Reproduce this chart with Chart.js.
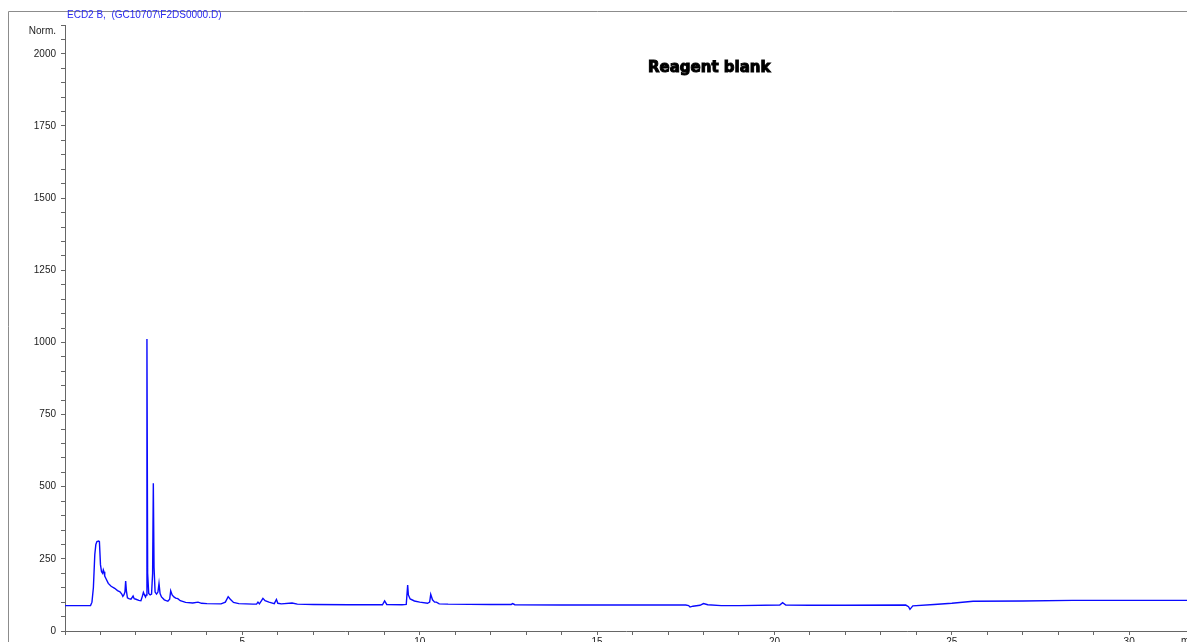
<!DOCTYPE html>
<html>
<head>
<meta charset="utf-8">
<script src="https://cdn.jsdelivr.net/npm/chart.js@4/dist/chart.umd.min.js"></script>
<style>
  html, body { margin: 0; padding: 0; background: #fff; }
  #wrap { width: 1187px; height: 642px; position: relative; }
</style>
</head>
<body>
<div id="wrap"><canvas id="chart1"></canvas></div>
<script>
// retention time (min)
var times = [
    0, 0.72, 0.76, 0.80, 0.84, 0.87, 0.90, 0.95, 0.97, 1.00,
    1.03, 1.06, 1.08, 1.10, 1.12, 1.16, 1.22, 1.30, 1.40, 1.48,
    1.55, 1.60, 1.63, 1.66, 1.69, 1.71, 1.73, 1.76, 1.80, 1.86,
    1.92, 1.95, 2.00, 2.08, 2.14, 2.18, 2.21, 2.24, 2.27, 2.29,
    2.31, 2.33, 2.36, 2.40, 2.44, 2.47, 2.49, 2.51, 2.54, 2.58,
    2.62, 2.65, 2.68, 2.72, 2.80, 2.90, 2.95, 2.98, 3.02, 3.07,
    3.12, 3.18, 3.25, 3.40, 3.60, 3.75, 3.85, 4.00, 4.40, 4.52,
    4.60, 4.66, 4.75, 4.90, 5.30, 5.40, 5.44, 5.48, 5.54, 5.58,
    5.64, 5.75, 5.90, 5.96, 6.00, 6.10, 6.40, 6.55, 7.00, 8.00,
    8.95, 9.01, 9.07, 9.50, 9.62, 9.66, 9.68, 9.73, 9.85, 10.0,
    10.22, 10.28, 10.31, 10.36, 10.42, 10.47, 10.55, 10.8, 12.0, 12.58,
    12.62, 12.68, 14.0, 16.0, 17.50, 17.58, 17.62, 17.70, 17.90, 18.0,
    18.12, 18.5, 19.0, 20.15, 20.23, 20.32, 21.0, 22.0, 23.70, 23.78,
    23.82, 23.90, 24.5, 25.0, 25.6, 27.0, 28.4, 30.0, 31.7
];
// detector signal (Norm.)
var signal = [
    88, 88, 100, 150, 265, 300, 310, 312, 310, 230,
    205, 200, 212, 205, 190, 180, 165, 155, 148, 140,
    136, 128, 120, 125, 135, 173, 140, 115, 112, 110,
    121, 112, 110, 106, 105, 120, 134, 125, 118, 125,
    1012, 200, 130, 125, 128, 200, 512, 220, 135, 128,
    135, 165, 130, 118, 108, 103, 110, 139, 125, 118,
    114, 112, 105, 99, 97, 100, 96, 95, 94, 100,
    119, 110, 99, 95, 93, 93, 100, 94, 105, 113,
    105, 100, 95, 109, 96, 94, 97, 93, 92, 91,
    91, 104, 92, 91, 92, 159, 125, 111, 104, 100,
    96, 100, 127, 108, 100, 100, 94, 93, 92, 92,
    95, 91, 90, 90, 90, 88, 83, 86, 89, 95,
    91, 88, 88, 90, 98, 90, 89, 89, 90, 84,
    75, 87, 92, 96, 103, 104, 106, 106, 106
];
var headerText = 'ECD2 B,  (GC10707\\F2DS0000.D)';
var titleText = 'Reagent blank';
var yTopLabel = 'Norm.';
var xUnit = 'min';

var points = [];
for (var i = 0; i < times.length; i++) {
    points.push({x: times[i], y: signal[i]});
}

// frame + header + title
var decorPlugin = {
    id: 'decor',
    beforeDraw: function(chart) {
        var c = chart.ctx;
        c.save();
        c.strokeStyle = '#8c8c8c';
        c.lineWidth = 1;
        c.beginPath();
        c.moveTo(8.5, 642);
        c.lineTo(8.5, 11.5);
        c.lineTo(1187, 11.5);
        c.stroke();
        c.restore();
    },
    afterDraw: function(chart) {
        var c = chart.ctx;
        c.save();
        c.fillStyle = '#2a2af0';
        c.font = '10px "Liberation Sans", Arial, sans-serif';
        c.textBaseline = 'middle';
        c.textAlign = 'left';
        c.fillText(headerText, 67, 15);

        c.fillStyle = '#000';
        c.strokeStyle = '#000';
        c.lineWidth = 1;
        c.font = 'bold 15px "DejaVu Sans", sans-serif';
        c.fillText(titleText, 648, 68);
        c.strokeText(titleText, 648, 68);

        c.fillStyle = '#222';
        c.font = '10px "Liberation Sans", Arial, sans-serif';
        c.textBaseline = 'top';
        c.fillText(xUnit, 1181, 636);
        c.restore();
    }
};

var ctx = document.getElementById('chart1').getContext('2d');
var myChart = new Chart(ctx, {
    type: 'line',
    data: {
        datasets: [{
            label: 'ECD2 B',
            data: points,
            borderColor: '#0a0aff',
            borderWidth: 1.4,
            pointRadius: 0,
            tension: 0,
            fill: false
        }]
    },
    options: {
        responsive: true,
        maintainAspectRatio: false,
        animation: false,
        layout: {padding: {top: 25, right: 0, bottom: 0, left: 0}},
        plugins: {
            legend: {display: false},
            tooltip: {enabled: false}
        },
        scales: {
            x: {
                type: 'linear',
                min: 0,
                max: 31.63,
                border: {display: true, color: '#666', width: 1},
                grid: {drawOnChartArea: false, tickLength: 4, color: '#666'},
                ticks: {
                    stepSize: 1,
                    autoSkip: false,
                    maxRotation: 0,
                    padding: 1,
                    color: '#222',
                    font: {family: '"Liberation Sans", Arial, sans-serif', size: 10},
                    callback: function(v) { return v % 5 === 0 && v > 0 ? v : ''; }
                },
                afterFit: function(scale) {
                    scale.height = 11;
                    scale.paddingLeft = 0;
                    scale.paddingRight = 0;
                }
            },
            y: {
                min: 0,
                max: 2100,
                border: {display: true, color: '#666', width: 1},
                grid: {drawOnChartArea: false, tickLength: 4, color: '#666'},
                ticks: {
                    stepSize: 50,
                    autoSkip: false,
                    padding: 5,
                    color: '#222',
                    font: {family: '"Liberation Sans", Arial, sans-serif', size: 10},
                    callback: function(v) {
                        if (v === 2100) return ['', yTopLabel];
                        return v % 250 === 0 ? v : '';
                    }
                },
                afterFit: function(scale) {
                    scale.width = 65;
                    scale.paddingTop = 0;
                    scale.paddingBottom = 0;
                }
            }
        }
    },
    plugins: [decorPlugin]
});
</script>
</body>
</html>
